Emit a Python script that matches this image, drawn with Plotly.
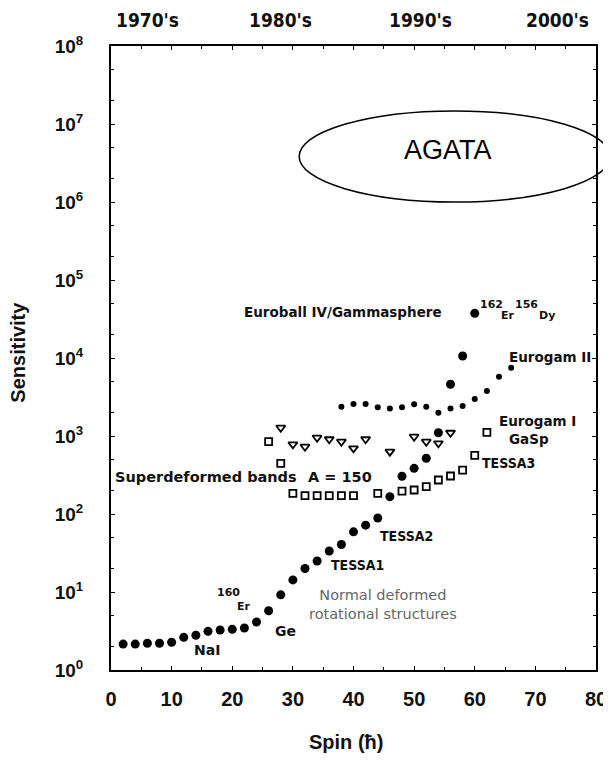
import plotly.graph_objects as go

# ---- data ----
nd_spin = list(range(2, 61, 2))
nd_sens = [2.15, 2.15, 2.2, 2.2, 2.27, 2.62, 2.79, 3.13, 3.26, 3.32,
           3.45, 4.12, 5.75, 9.2, 14.3, 20, 25, 33.6, 40.7, 59,
           72, 89, 167, 305, 385, 518, 1100, 4600, 10600, 37400]

eg_spin = list(range(38, 67, 2))
eg_sens = [2380, 2570, 2570, 2330, 2260, 2330, 2550, 2380, 1990, 2260,
           2430, 2980, 3780, 5750, 7510]

tri_spin = [28, 30, 32, 34, 36, 38, 40, 42, 46, 50, 52, 54, 56]
tri_sens = [1277, 782, 729, 951, 908, 845, 695, 908, 630, 980, 845, 806, 1100]

sq_spin = [26, 28, 30, 32, 34, 36, 38, 40, 44, 48, 50, 52, 54, 56, 58, 60, 62]
sq_sens = [845, 447, 184, 172, 172, 172, 172, 172, 184, 197, 203, 224, 273,
           307, 366, 566, 1115]

decade_labels = ["1970's", "1980's", "1990's", "2000's"]
decade_pos = [6.1, 27.9, 51.0, 73.6]

x_ticks = [0, 10, 20, 30, 40, 50, 60, 70, 80]
y_exps = [0, 1, 2, 3, 4, 5, 6, 7, 8]
y_tickvals = [10 ** e for e in y_exps]
y_ticktext = ["10<sup>%d</sup>" % e for e in y_exps]

NARROW = "Liberation Sans Narrow, DejaVu Sans Condensed, Arial Narrow, sans-serif"
BOLD_FONT = "Liberation Sans, Arial, sans-serif"
WIDE = "DejaVu Sans, Verdana, sans-serif"

fig = go.Figure()
fig.add_trace(go.Scatter(x=nd_spin, y=nd_sens, mode="markers",
                         marker=dict(symbol="circle", size=9, color="black")))
fig.add_trace(go.Scatter(x=eg_spin, y=eg_sens, mode="markers",
                         marker=dict(symbol="circle", size=6, color="black")))
fig.add_trace(go.Scatter(x=tri_spin, y=tri_sens, mode="markers",
                         marker=dict(symbol="triangle-down-open", size=8,
                                     color="black", line=dict(width=1.8))))
fig.add_trace(go.Scatter(x=sq_spin, y=sq_sens, mode="markers",
                         marker=dict(symbol="square-open", size=7,
                                     color="black", line=dict(width=1.8))))

anns = []
def lab(text, x, y, size=13.5, color="#111", weight="bold", family=WIDE):
    anns.append(dict(text=text, x=x, y=y, xref="x", yref="y", showarrow=False,
                     font=dict(size=size, color=color, family=family, weight=weight),
                     xanchor="center", yanchor="middle"))

lab("NaI", 15.9, 0.256, size=14)
lab("Ge", 28.8, 0.5, size=14)
lab("160", 19.3, 1.0, size=11)
lab("Er", 21.9, 0.82, size=11)
lab("TESSA1", 40.7, 1.346, size=14, family=NARROW)
lab("TESSA2", 48.8, 1.718, size=14, family=NARROW)
lab("TESSA3", 65.6, 2.654, size=14, family=NARROW)
lab("Normal deformed<br>rotational structures", 44.9, 0.84, size=14.5,
    color="#666", weight="normal")
lab("Superdeformed bands", 15.75, 2.474, size=14.5)
lab("A = 150", 37.7, 2.474, size=14.5)
lab("Eurogam I", 70.3, 3.19)
lab("GaSp", 68.9, 2.96)
lab("Eurogam II", 72.4, 4.01)
lab("Euroball IV/Gammasphere", 38.3, 4.59)
lab("162", 62.8, 4.68, size=11)
lab("Er", 65.5, 4.54, size=11)
lab("156", 68.5, 4.68, size=11)
lab("Dy", 71.9, 4.54, size=11)

for t, p in zip(decade_labels, decade_pos):
    anns.append(dict(text=t, x=p, y=1.042, xref="x", yref="paper", showarrow=False,
                     font=dict(size=19, color="#111", family=NARROW, weight="bold"),
                     xanchor="center", yanchor="middle"))

anns.append(dict(text="AGATA", x=0.695, y=0.833, xref="paper", yref="paper",
                 showarrow=False, font=dict(size=27, color="black", family=BOLD_FONT),
                 xanchor="center", yanchor="middle"))
anns.append(dict(text="Sensitivity", x=-0.192, y=0.51, xref="paper", yref="paper",
                 showarrow=False, textangle=-90,
                 font=dict(size=20, color="#111", family=BOLD_FONT, weight="bold"),
                 xanchor="center", yanchor="middle"))
anns.append(dict(text="Spin (ħ)", x=0.485, y=-0.116, xref="paper", yref="paper",
                 showarrow=False,
                 font=dict(size=20, color="#111", family=BOLD_FONT, weight="bold"),
                 xanchor="center", yanchor="middle"))

# page body has an 8px margin, so the figure is sized/offset to compensate
fig.update_layout(
    width=603, height=754,
    margin=dict(l=103, r=15, t=38, b=92, autoexpand=False),
    paper_bgcolor="white", plot_bgcolor="white",
    showlegend=False,
    annotations=anns,
    shapes=[dict(type="circle", xref="paper", yref="paper",
                 x0=0.388, x1=1.029, y0=0.75, y1=0.896,
                 line=dict(color="black", width=1.5))],
)
fig.update_xaxes(range=[0, 80], tickvals=x_ticks, showgrid=False, zeroline=False,
                 automargin=False,
                 showline=True, linecolor="black", linewidth=2, mirror="ticks",
                 ticks="inside", ticklen=4, tickcolor="black",
                 minor=dict(ticks="inside", ticklen=3, dtick=5, tickcolor="black"),
                 ticklabelstandoff=10,
                 tickfont=dict(size=20, color="#111", family=BOLD_FONT, weight="bold"))
fig.update_yaxes(type="log", range=[0, 8], tickvals=y_tickvals, ticktext=y_ticktext,
                 showgrid=False, zeroline=False, automargin=False,
                 showline=True, linecolor="black", linewidth=2, mirror="ticks",
                 ticks="inside", ticklen=4, tickcolor="black",
                 minor=dict(ticks="inside", ticklen=3, tickcolor="black"),
                 ticklabelstandoff=22,
                 tickfont=dict(size=19, color="#111", family=BOLD_FONT, weight="bold"))

fig.write_html("out.html")
